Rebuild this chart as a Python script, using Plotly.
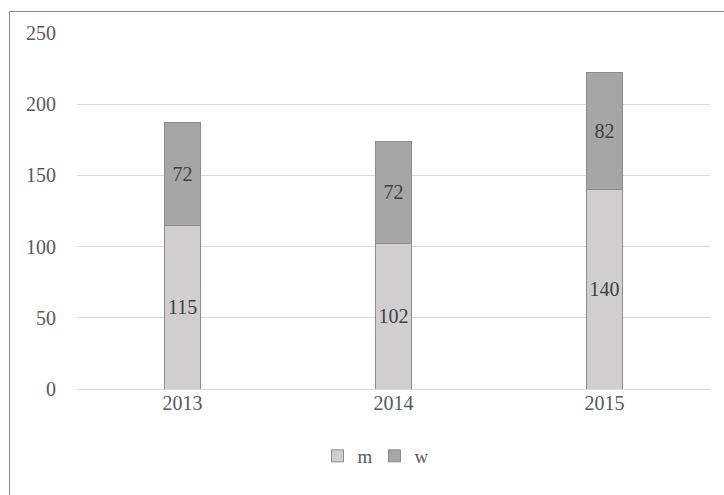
import plotly.graph_objects as go

years = ["2013", "2014", "2015"]
m_vals = [115, 102, 140]
w_vals = [72, 72, 82]
y_ticks = [0, 50, 100, 150, 200, 250]

W, H = 724, 495
L, R, T, B = 77, 14, 33, 106
pw, ph = W - L - R, H - T - B

font_family = "Liberation Serif"
txt_color = "#595959"

fig = go.Figure()
for name, vals, col in [("m", m_vals, "#d0cece"), ("w", w_vals, "#a6a6a6")]:
    fig.add_trace(go.Bar(
        name=name, x=years, y=vals, text=[str(v) for v in vals],
        textposition="inside", insidetextanchor="middle", textangle=0,
        constraintext="none", cliponaxis=False,
        textfont=dict(family=font_family, size=20, color="#404040"),
        marker=dict(color=col, line=dict(color="#8c8c8c", width=1)),
    ))

def px_x(p):
    return (p - L) / pw

def px_y(p):
    return (H - B - p) / ph

fig.add_shape(type="rect", xref="paper", yref="paper",
              x0=px_x(9.5), x1=px_x(740), y0=px_y(520), y1=px_y(11.5),
              line=dict(color="#8a8a8a", width=1), fillcolor="rgba(0,0,0,0)", layer="above")

fig.update_layout(
    width=W, height=H,
    margin=dict(l=L, r=R, t=T, b=B),
    barmode="stack", bargap=0.83,
    plot_bgcolor="white", paper_bgcolor="white",
    font=dict(family=font_family, size=20, color=txt_color),
    showlegend=True,
    legend=dict(orientation="h", x=0.47, xanchor="center", y=px_y(456), yanchor="middle",
                font=dict(family=font_family, size=19, color=txt_color),
                itemwidth=30, entrywidth=12, entrywidthmode="pixels", traceorder="normal"),
    xaxis=dict(showgrid=False, showline=False, ticks="", tickfont=dict(size=20, color=txt_color)),
    yaxis=dict(range=[0, 250], tickvals=y_ticks, showgrid=True, gridcolor="#d9d9d9", gridwidth=1,
               zeroline=True, zerolinecolor="#d9d9d9", zerolinewidth=1, showline=False,
               ticks="", ticklabelstandoff=20, tickfont=dict(size=20, color=txt_color)),
)

fig.write_html("out.html")
